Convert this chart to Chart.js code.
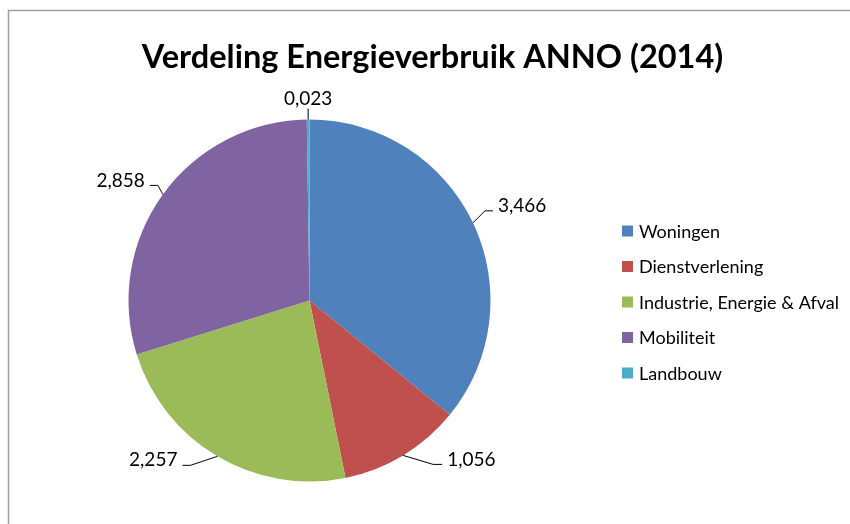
<!DOCTYPE html>
<html>
<head>
<meta charset="utf-8">
<script src="https://cdn.jsdelivr.net/npm/chart.js@4/dist/chart.umd.min.js"></script>
<style>
  html, body { margin: 0; padding: 0; background: #fff; }
  #wrap { width: 850px; height: 524px; position: relative; }
</style>
</head>
<body>
<div id="wrap"><canvas id="c" width="850" height="524"></canvas></div>
<script>
const titleText = 'Verdeling Energieverbruik ANNO (2014)';
const categories = ['Woningen', 'Dienstverlening', 'Industrie, Energie & Afval', 'Mobiliteit', 'Landbouw'];
const values = [3.466, 1.056, 2.257, 2.858, 0.023];
const colors = ['#4F81BD', '#C0504D', '#9BBB59', '#8064A2', '#4BACC6'];

// leader-line styling (elbow offset from slice edge, px) and horizontal run
const leaderOffsets = [[12, -12], [30, 9], [-27, 9], [-5, -9], [0, -11]];
const leaderRuns = [8, 9, 8, 8, 0];

function fmt(v) { return v.toFixed(3).replace('.', ','); }

const decor = {
  id: 'decor',
  afterDraw(chart) {
    const ctx = chart.ctx;
    ctx.save();
    // frame
    ctx.strokeStyle = '#a0a0a0';
    ctx.lineWidth = 1.5;
    ctx.beginPath();
    ctx.moveTo(8.5, 530);
    ctx.lineTo(8.5, 10.5);
    ctx.lineTo(860, 10.5);
    ctx.stroke();

    // title
    ctx.fillStyle = '#000';
    ctx.font = 'bold 32.5px Lato';
    ctx.textAlign = 'center';
    ctx.textBaseline = 'alphabetic';
    ctx.fillText(titleText, 432.5, 68);

    // legend
    ctx.font = '18px Lato';
    ctx.textAlign = 'left';
    ctx.textBaseline = 'middle';
    categories.forEach((c, i) => {
      const yc = 231 + i * 35.5;
      ctx.fillStyle = colors[i];
      ctx.fillRect(622, yc - 5.5, 11, 11);
      ctx.fillStyle = '#000';
      ctx.fillText(c, 639, yc + 1);
    });

    // data labels with leader lines
    const meta = chart.getDatasetMeta(0);
    ctx.font = '19px Lato';
    ctx.strokeStyle = '#000';
    ctx.lineWidth = 1;
    meta.data.forEach((arc, i) => {
      const p = arc.getProps(['x', 'y', 'startAngle', 'endAngle', 'outerRadius'], true);
      const mid = (p.startAngle + p.endAngle) / 2;
      const ex = p.x + Math.cos(mid) * p.outerRadius;
      const ey = p.y + Math.sin(mid) * p.outerRadius;
      const [ox, oy] = leaderOffsets[i];
      const bx = ex + ox, by = ey + oy;
      const run = leaderRuns[i];
      const side = Math.cos(mid) >= 0 ? 1 : -1;
      const tx = bx + side * run;
      ctx.beginPath();
      ctx.moveTo(ex, ey);
      ctx.lineTo(bx, by);
      ctx.lineTo(tx, by);
      ctx.stroke();
      ctx.fillStyle = '#000';
      const label = fmt(values[i]);
      if (run === 0) {
        ctx.textAlign = 'center';
        ctx.textBaseline = 'alphabetic';
        ctx.fillText(label, bx, by - 4);
      } else {
        ctx.textAlign = side > 0 ? 'left' : 'right';
        ctx.textBaseline = 'middle';
        ctx.fillText(label, tx + side * 5, by - 5);
      }
    });
    ctx.restore();
  }
};

new Chart(document.getElementById('c'), {
  type: 'pie',
  data: {
    labels: categories,
    datasets: [{
      data: values,
      backgroundColor: colors,
      borderWidth: 0
    }]
  },
  options: {
    responsive: false,
    devicePixelRatio: 1,
    animation: false,
    layout: { padding: { left: 128.5, right: 359.5, top: 119.5, bottom: 42.5 } },
    plugins: {
      legend: { display: false },
      title: { display: false },
      tooltip: { enabled: false }
    }
  },
  plugins: [decor]
});
</script>
</body>
</html>
